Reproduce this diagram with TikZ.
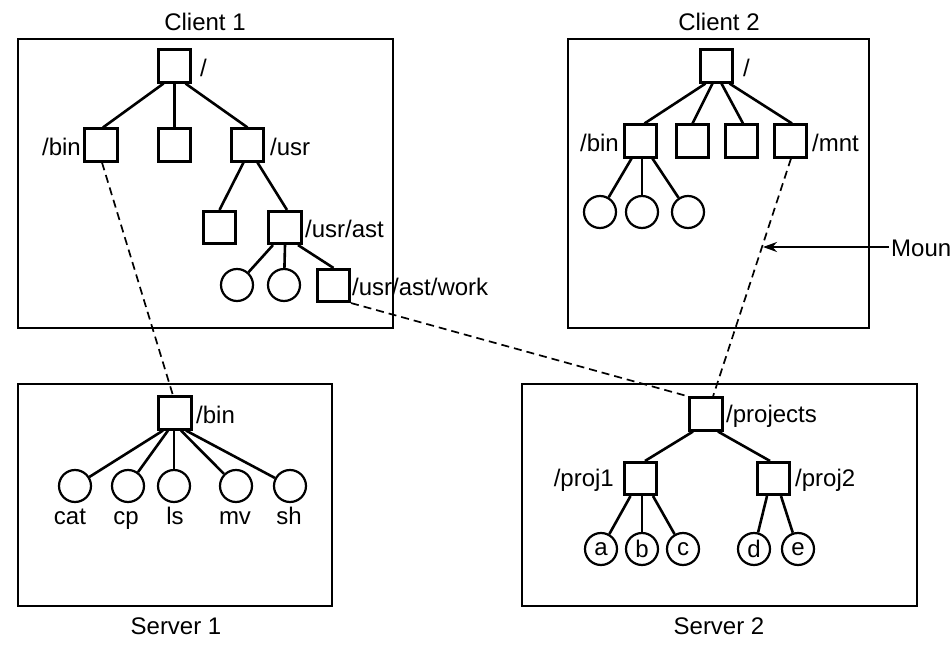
\documentclass[tikz,border=0pt]{standalone}
\usepackage{fontspec}
\setmainfont{Liberation Sans}
\usetikzlibrary{arrows.meta}
\begin{document}
\begin{tikzpicture}[x=1pt,y=-1pt,
 every node/.style={font=\fontsize{24}{28}\selectfont},
 dirbox/.style={draw, line width=2.6pt, rectangle, minimum size=32.5pt, inner sep=0pt},
 filec/.style={draw, line width=2.2pt, circle, minimum size=32pt, inner sep=0pt},
 frame/.style={draw, line width=2.6pt},
 tree/.style={line width=2.6pt},
 mnt/.style={line width=1.7pt, dash pattern=on 8pt off 5pt},
 lbl/.style={inner sep=0pt}]
\useasboundingbox (0,0) rectangle (951,653);
\fill[white] (0,0) rectangle (951,653);

% ---------- frames ----------
\draw[frame] (18,39) rectangle (393,328);
\draw[frame] (568,39) rectangle (869,328);
\draw[frame] (18,384) rectangle (332,606);
\draw[frame] (522,384) rectangle (917,606);
\node[lbl] (t1) at (205,22) {Client 1};
\node[lbl] (t2) at (719,22) {Client 2};
\node[lbl] (t3) at (176,626) {Server 1};
\node[lbl] (t4) at (719,626) {Server 2};

% ---------- Client 1 ----------
\node[dirbox] (c1r) at (174.5,66) {};
\node[dirbox] (c1bin) at (101,145) {};
\node[dirbox] (c1m) at (174.5,145) {};
\node[dirbox] (c1usr) at (247.5,145) {};
\node[dirbox] (c1u1) at (219.5,227.5) {};
\node[dirbox] (c1ast) at (285,227.5) {};
\node[filec] (c1f1) at (237,285) {};
\node[filec] (c1f2) at (284,285) {};
\node[dirbox] (c1work) at (333.5,285.5) {};
\node[lbl,anchor=west] (l1r) at (200,68) {/};
\node[lbl,anchor=east] (l1bin) at (81,147) {/bin};
\node[lbl,anchor=west] (l1usr) at (270,147) {/usr};
\node[lbl,anchor=west] (l1ast) at (305,229) {/usr/ast};
\node[lbl,anchor=west] (l1work) at (352,287) {/usr/ast/work};
\draw[tree] ([xshift=-11pt]c1r.south) -- ([xshift=2pt]c1bin.north);
\draw[tree] (c1r.south) -- (c1m.north);
\draw[tree] ([xshift=11pt]c1r.south) -- (c1usr.north);
\draw[tree] ([xshift=-4pt]c1usr.south) -- (c1u1.north);
\draw[tree] ([xshift=10pt]c1usr.south) -- ([xshift=2pt]c1ast.north);
\draw[tree] ([xshift=-12pt]c1ast.south) -- (c1f1);
\draw[tree] (c1ast.south) -- (c1f2);
\draw[tree] ([xshift=13pt]c1ast.south) -- (c1work.north);

% ---------- Client 2 ----------
\node[dirbox] (c2r) at (716.5,66) {};
\node[dirbox] (c2bin) at (640.5,141) {};
\node[dirbox] (c2s2) at (692.5,141) {};
\node[dirbox] (c2s3) at (741.5,141) {};
\node[dirbox] (c2mnt) at (790.5,141) {};
\node[filec] (c2f1) at (600,212) {};
\node[filec] (c2f2) at (642,212) {};
\node[filec] (c2f3) at (688,212) {};
\node[lbl,anchor=west] (l2r) at (743,68) {/};
\node[lbl,anchor=east] (l2bin) at (619,143) {/bin};
\node[lbl,anchor=west] (l2mnt) at (812,143) {/mnt};
\draw[tree] ([xshift=-11pt]c2r.south) -- ([xshift=4pt]c2bin.north);
\draw[tree] ([xshift=-4pt]c2r.south) -- (c2s2.north);
\draw[tree] ([xshift=5pt]c2r.south) -- ([xshift=1.5pt]c2s3.north);
\draw[tree] ([xshift=13pt]c2r.south) -- ([xshift=1.5pt]c2mnt.north);
\draw[tree] ([xshift=-9pt]c2bin.south) -- (c2f1);
\draw[tree] ([xshift=1.5pt]c2bin.south) -- (c2f2);
\draw[tree] ([xshift=12pt]c2bin.south) -- (c2f3);

% ---------- Server 1 ----------
\node[dirbox] (s1bin) at (175,413) {};
\node[filec] (s1a) at (75,486) {};
\node[filec] (s1b) at (128,486) {};
\node[filec] (s1c) at (174,486) {};
\node[filec] (s1d) at (236,486) {};
\node[filec] (s1e) at (290,486) {};
\node[lbl,anchor=west] (l3bin) at (196,415) {/bin};
\node[lbl,anchor=base] (n1) at (70,524) {cat};
\node[lbl,anchor=base] (n2) at (126,524) {cp};
\node[lbl,anchor=base] (n3) at (175,524) {ls};
\node[lbl,anchor=base] (n4) at (235,524) {mv};
\node[lbl,anchor=base] (n5) at (289,524) {sh};
\draw[tree] ([xshift=-12pt]s1bin.south) -- (s1a);
\draw[tree] ([xshift=-7pt]s1bin.south) -- (s1b);
\draw[tree] ([xshift=-1pt]s1bin.south) -- (s1c.north);
\draw[tree] ([xshift=6pt]s1bin.south) -- (s1d);
\draw[tree] ([xshift=11pt]s1bin.south) -- (s1e);

% ---------- Server 2 ----------
\node[dirbox] (pr) at (706,414) {};
\node[dirbox] (p1) at (640.5,478.5) {};
\node[dirbox] (p2) at (773.5,478.5) {};
\node[filec] (fa) at (601,549) {a};
\node[filec] (fb) at (642,549) {b};
\node[filec] (fc) at (683,549) {c};
\node[filec] (fd) at (754,549) {d};
\node[filec] (fe) at (798,549) {e};
\node[lbl,anchor=west] (l4pr) at (726,416) {/projects};
\node[lbl,anchor=east] (l4p1) at (614,480) {/proj1};
\node[lbl,anchor=west] (l4p2) at (795,480) {/proj2};
\draw[tree] ([xshift=-13pt]pr.south) -- ([xshift=4.5pt]p1.north);
\draw[tree] ([xshift=12pt]pr.south) -- ([xshift=-3.5pt]p2.north);
\draw[tree] ([xshift=-10pt]p1.south) -- (fa);
\draw[tree] ([xshift=1.5pt]p1.south) -- (fb.north);
\draw[tree] ([xshift=12.5pt]p1.south) -- (fc);
\draw[tree] ([xshift=-6.5pt]p2.south) -- (fd);
\draw[tree] ([xshift=7.5pt]p2.south) -- (fe);

% ---------- mounts ----------
\draw[mnt] ([xshift=1pt]c1bin.south) -- ([xshift=-2pt]s1bin.north);
\draw[mnt] (c1work.south east) -- (pr.north west);
\draw[mnt] ([xshift=0.5pt]c2mnt.south) -- ([xshift=7pt]pr.north);
\node[lbl,anchor=west] (mount) at (891,248) {Moun};
\coordinate (mpt) at (763,247);
\draw[line width=2.4pt,-{Stealth[length=14pt,width=10pt]}] ([xshift=-2pt]mount.west |- mpt) -- (mpt);
\end{tikzpicture}
\end{document}
